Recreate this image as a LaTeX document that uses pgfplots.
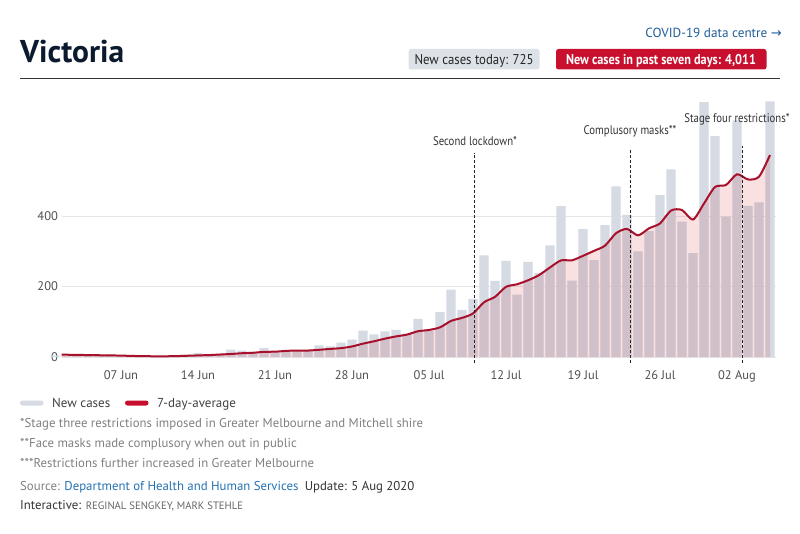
\documentclass[border=0pt]{standalone}
\usepackage{pgfplots}
\usepackage{pgfplotstable}
\pgfplotsset{compat=1.18}
\usepackage{fontspec}
\setmainfont{PT Sans}
\newfontfamily\condfont[FakeStretch=0.86]{PT Sans}
\newfontfamily\semicond[FakeStretch=0.9]{PT Sans}
\newfontfamily\dejavu{DejaVu Sans}
\definecolor{barc}{HTML}{D5DAE3}
\definecolor{pinkc}{HTML}{F9E1E2}
\definecolor{linec}{HTML}{A8102C}
\definecolor{redc}{HTML}{C8102E}
\definecolor{navy}{HTML}{0B1A2E}
\definecolor{bluelink}{HTML}{1F5E99}
\definecolor{srcblue}{HTML}{2472B2}
\definecolor{gridc}{HTML}{E6E6E6}
\definecolor{ticktext}{HTML}{505050}
\definecolor{foot}{HTML}{808080}
\definecolor{badgegray}{HTML}{DDE1E8}

% daily new cases, day 0 = 1 Jun 2020
\pgfplotstableread{
d v
0 4
1 2
2 3
3 4
4 4
5 7
6 1
7 1
8 1
9 0
10 3
11 4
12 7
13 12
14 4
15 9
16 21
17 18
18 13
19 25
20 16
21 19
22 17
23 20
24 33
25 30
26 41
27 49
28 75
29 64
30 73
31 77
32 66
33 108
34 74
35 127
36 191
37 134
38 165
39 288
40 216
41 273
42 177
43 270
44 238
45 317
46 428
47 217
48 363
49 275
50 374
51 484
52 403
53 300
54 357
55 459
56 532
57 384
58 295
59 723
60 627
61 397
62 671
63 429
64 439
65 725
}\cases

% 7-day average
\pgfplotstableread{
d a
0.6 6.8
1 6.5
2 6
3 5.5
4 5
5 4.5
6 4
7 3
8 2.5
9 2
10 2
11 2.5
12 3.5
13 4.5
14 5.5
15 7
16 8.6
17 10.7
18 12
19 14.6
20 15.1
21 17.3
22 18.4
23 18.3
24 20.4
25 22.9
26 25.1
27 29.9
28 37.9
29 44.6
30 52.1
31 58.4
32 63.6
33 73.1
34 76.7
35 84.1
36 102.3
37 111
38 123.6
39 155.3
40 170.7
41 199.1
42 206.3
43 217.6
44 232.4
45 254.1
46 274.1
47 274.3
48 287.1
49 301.1
50 316
51 351.1
52 363.4
53 345.1
54 365.1
55 378.9
56 415.6
57 417
58 390
59 435.7
60 482.4
61 488.1
62 518.4
63 503.7
64 511.6
65 573
}\avg

\begin{document}
\begin{tikzpicture}
\begin{scope}[x=1pt,y=1pt]
\fill[white] (0,0) rectangle (800,-534);
% header
\node[anchor=base west, inner sep=0, text=navy, font=\fontsize{31.5}{31.5}\selectfont\bfseries] at (20,-63) {Victoria};
\node[anchor=base east, inner sep=0, text=bluelink, font=\fontsize{13.2}{13.2}\selectfont] at (782,-37.5) {COVID-19 data centre {\dejavu\fontsize{13}{13}\selectfont →}};
\fill[badgegray, rounded corners=2.5pt] (408.5,-49) rectangle (539.5,-69.5);
\node[anchor=base, inner sep=0, text=black!85, font=\semicond\fontsize{14.2}{14.2}\selectfont] at (474,-64.5) {New cases today: 725};
\fill[redc, rounded corners=2.5pt] (556,-49) rectangle (766.5,-69.5);
\node[anchor=base, inner sep=0, text=white, font=\condfont\fontsize{14.2}{14.2}\selectfont\bfseries] at (661,-64.5) {New cases in past seven days: 4,011};
\draw[black!80, line width=1pt] (20,-78.3) -- (780,-78.3);
\end{scope}

\begin{axis}[
  at={(61.6pt,-357pt)}, anchor=south west,
  scale only axis, width=713.9pt, height=257.3pt,
  xmin=0.6, xmax=65.5, ymin=0, ymax=730,
  clip=false,
  axis line style={draw=none},
  ymajorgrids, grid style={gridc, line width=1pt},
  ytick={0,200,400},
  xtick={6,13,20,27,34,41,48,55,62},
  xticklabels={07 Jun,14 Jun,21 Jun,28 Jun,05 Jul,12 Jul,19 Jul,26 Jul,02 Aug},
  tick style={draw=none},
  /pgf/number format/assume math mode=true,
  ticklabel style={font=\fontsize{12.5}{12.5}\selectfont, text=ticktext, inner sep=0pt},
  yticklabel style={anchor=east, xshift=-3.5pt},
  xticklabel style={anchor=base, yshift=-22pt},
]
\addplot[ybar, bar width=9.3pt, fill=barc, draw=none] table[x=d,y=v]{\cases};
\addplot[draw=none, fill=pinkc, blend mode=multiply, smooth, tension=0.45] table[x=d,y=a]{\avg} \closedcycle;
\addplot[linec, line width=2pt, smooth, tension=0.45] table[x=d,y=a]{\avg};
\addplot[black!85, dash pattern=on 3pt off 2pt, line width=0.9pt] coordinates {(38.1,-17) (38.1,579)};
\addplot[black!85, dash pattern=on 3pt off 2pt, line width=0.9pt] coordinates {(52.3,-17) (52.3,587)};
\addplot[black!85, dash pattern=on 3pt off 2pt, line width=0.9pt] coordinates {(62.5,-17) (62.5,599)};
\end{axis}

\begin{scope}[x=1pt,y=1pt]
% annotations
\node[anchor=base, inner sep=0, text=black!80, font=\condfont\fontsize{12.5}{12.5}\selectfont] at (475,-146) {Second lockdown*};
\node[anchor=base, inner sep=0, text=black!80, font=\condfont\fontsize{12.5}{12.5}\selectfont] at (630,-135) {Complusory masks**};
\node[anchor=base, inner sep=0, text=black!80, font=\condfont\fontsize{12.5}{12.5}\selectfont] at (737,-123) {Stage four restrictions*};

% legend
\fill[barc, rounded corners=2.5pt] (20,-400.5) rectangle (43.5,-405.5);
\node[anchor=base west, inner sep=0, text=black!75, font=\fontsize{13}{13}\selectfont] at (52,-407) {New cases};
\fill[redc, rounded corners=2.5pt] (125,-400.5) rectangle (148.5,-405.5);
\node[anchor=base west, inner sep=0, text=black!75, font=\fontsize{13}{13}\selectfont] at (157,-407) {7-day-average};

% footnotes
\node[anchor=base west, inner sep=0, text=foot, font=\fontsize{12.8}{12.8}\selectfont] at (20,-427) {*Stage three restrictions imposed in Greater Melbourne and Mitchell shire};
\node[anchor=base west, inner sep=0, text=foot, font=\fontsize{12.8}{12.8}\selectfont] at (20,-447) {**Face masks made complusory when out in public};
\node[anchor=base west, inner sep=0, text=foot, font=\fontsize{12.8}{12.8}\selectfont] at (20,-467) {***Restrictions further increased in Greater Melbourne};
\node[anchor=base west, inner sep=0, font=\fontsize{12.8}{12.8}\selectfont] at (20,-490) {\textcolor{foot}{Source:} \textcolor{srcblue}{Department of Health and Human Services}\enspace\textcolor{black!80}{Update: 5 Aug 2020}};
\node[anchor=base west, inner sep=0, font=\fontsize{12.8}{12.8}\selectfont] at (20,-509) {\textcolor{black!80}{Interactive:} \textcolor{black!60}{\fontsize{10.7}{10.7}\selectfont REGINAL SENGKEY, MARK STEHLE}};
\end{scope}
\end{tikzpicture}
\end{document}
